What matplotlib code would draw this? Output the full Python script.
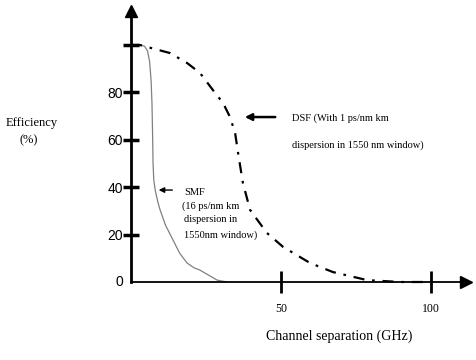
import matplotlib.pyplot as plt

# values (x: GHz, y: %)
smf_x = [0, 3, 4.5, 5.5, 6.2, 6.7, 7.0, 7.2, 7.35, 7.6, 8.1, 9.0, 9.7, 11.5, 14, 16.3, 18.7, 21, 23, 26, 28.7, 32]
smf_y = [100, 100, 99.5, 97.5, 93, 85, 75, 62, 50, 43, 38.5, 33.5, 30.4, 24, 17.7, 12, 8, 6, 5, 2.8, 0.8, 0]

dsf_x = [0, 3, 13, 18.7, 23, 27.3, 30.7, 33, 34.7, 35.7, 37.3, 39.7, 45.3, 50.7, 59.7, 67.3, 78.7, 89.7, 98.7]
dsf_y = [100, 100, 96.6, 92.4, 88.2, 81, 75.5, 69.6, 62.9, 54.4, 41.8, 30.4, 20.7, 14.8, 8, 4.2, 0.8, 0, 0]

y_ticks = [20, 40, 60, 80, 100]
y_labels = ["20", "40", "60", "80", ""]
x_ticks = [50, 100]
x_labels = ["50", "100"]

serif = "Liberation Serif"
sans = "Liberation Sans"

fig = plt.figure(figsize=(4.77, 3.6), dpi=100)
ax = fig.add_axes([0, 0, 1, 1])
ax.set_xlim(-131 / 3, 346 / 3)
ax.set_ylim(-78 / 2.37, 282 / 2.37)

# axes drawn as arrows through the origin
for s in ["top", "right"]:
    ax.spines[s].set_visible(False)
ax.spines["left"].set_position(("data", 0))
ax.spines["bottom"].set_position(("data", 0))
ax.spines["left"].set_bounds(0, 113)
ax.spines["bottom"].set_bounds(0, 110)
ax.spines["left"].set_linewidth(2)
ax.spines["bottom"].set_linewidth(1.3)
ax.plot(0, 114.5, marker="^", markersize=9, color="black", clip_on=False)
ax.plot(111.5, 0, marker=">", markersize=8, color="black", clip_on=False)

ax.set_yticks(y_ticks, y_labels)
ax.tick_params(axis="y", direction="inout", length=12, width=2.5, pad=0, labelsize=10)
for t in ax.get_yticklabels():
    t.set_fontfamily(sans)
ax.text(-2.5, 0, "0", ha="right", va="center", fontsize=10, fontfamily=sans)

ax.set_xticks(x_ticks, x_labels)
ax.tick_params(axis="x", direction="inout", length=16, width=2, pad=7, labelsize=8.5)
for t in ax.get_xticklabels():
    t.set_fontfamily(serif)

# curves
ax.plot(smf_x, smf_y, color="#808080", lw=0.9)
ax.plot(dsf_x, dsf_y, color="black", lw=1.6, linestyle=(0, (5, 3.5, 1.2, 3.5)))

# annotations
ax.annotate("", xy=(37, 69.6), xytext=(49, 69.6),
            arrowprops=dict(arrowstyle="-|>", color="black", lw=1.8, mutation_scale=10))
ax.text(53.7, 69.2, "DSF (With 1 ps/nm km", fontsize=7.5, fontfamily=serif, va="center")
ax.text(53.7, 57.8, "dispersion in 1550 nm window)", fontsize=7.5, fontfamily=serif, va="center")

ax.annotate("", xy=(8.3, 38.8), xytext=(14.7, 38.8),
            arrowprops=dict(arrowstyle="-|>", color="black", lw=1, mutation_scale=8))
ax.text(17.7, 37.6, "SMF", fontsize=7.5, fontfamily=serif, va="center")
ax.text(17, 32.1, "(16 ps/nm km", fontsize=7.5, fontfamily=serif, va="center")
ax.text(17.7, 26.2, "dispersion in", fontsize=7.5, fontfamily=serif, va="center")
ax.text(17.7, 19.8, "1550nm window)", fontsize=7.5, fontfamily=serif, va="center")

fig.text(32 / 477, 1 - 123 / 360, "Efficiency", fontsize=9, fontfamily=serif, ha="center", va="center")
fig.text(29 / 477, 1 - 140 / 360, "(%)", fontsize=9, fontfamily=serif, ha="center", va="center")
fig.text(339 / 477, 1 - 336 / 360, "Channel separation (GHz)", fontsize=10, fontfamily=serif,
         ha="center", va="center")

fig.savefig("out.png", dpi=100)
